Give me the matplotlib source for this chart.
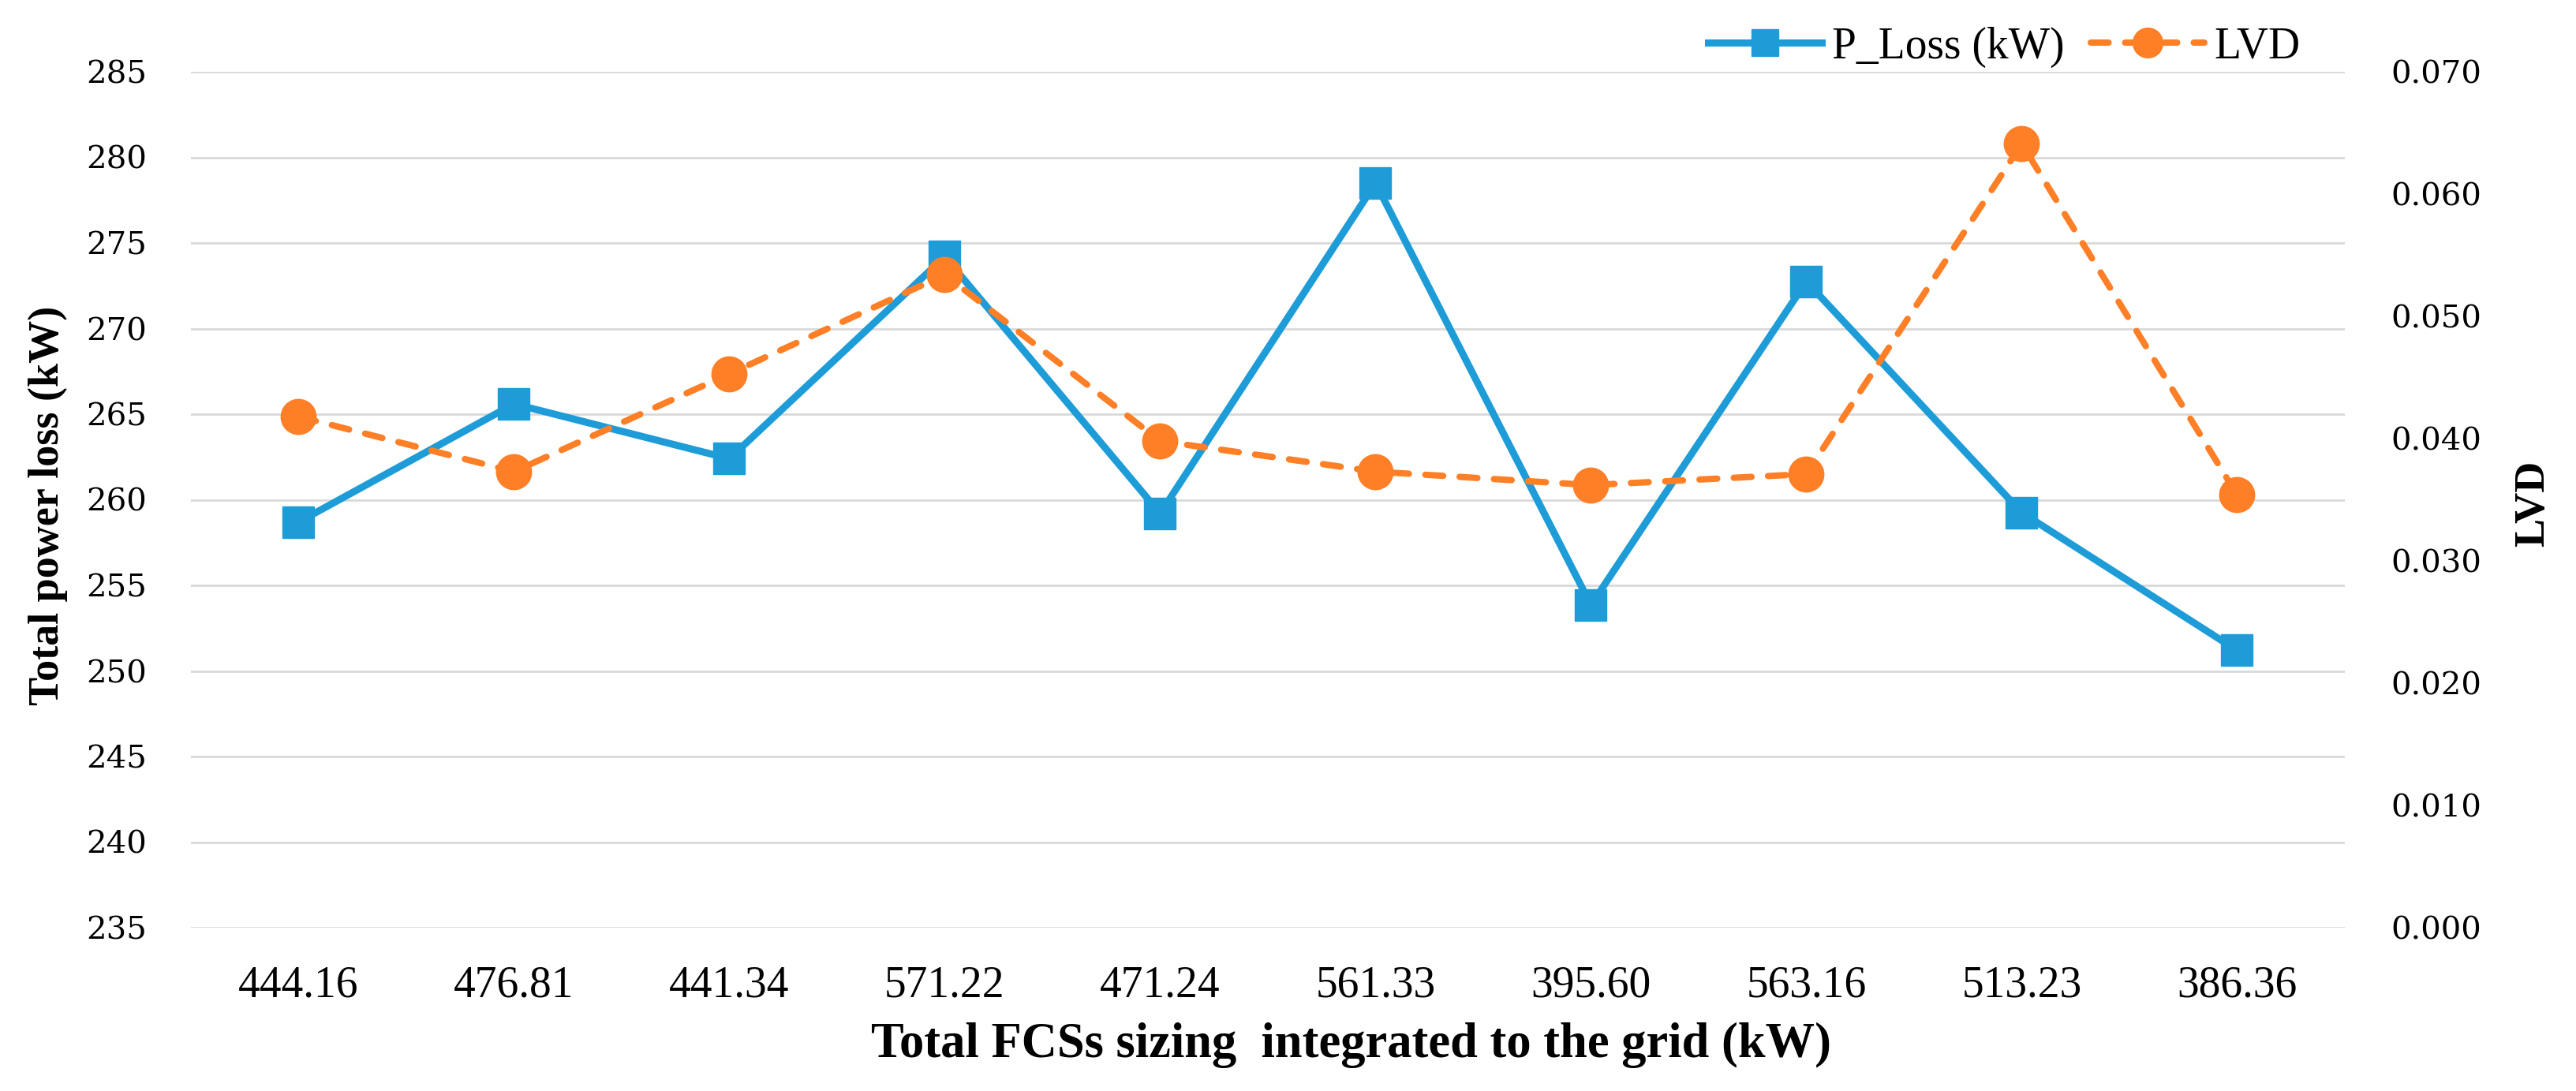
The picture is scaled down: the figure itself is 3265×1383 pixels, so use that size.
import matplotlib
matplotlib.use("Agg")
import matplotlib.pyplot as plt
from matplotlib.ticker import FixedLocator, FormatStrFormatter

categories = ["444.16", "476.81", "441.34", "571.22", "471.24",
              "561.33", "395.60", "563.16", "513.23", "386.36"]
p_loss = [258.7, 265.6, 262.4, 274.2, 259.2, 278.5, 253.85, 272.75, 259.25, 251.2]
lvd = [0.0418, 0.0373, 0.0453, 0.0534, 0.0398, 0.0373, 0.0362, 0.0371, 0.0641, 0.0354]
left_ticks = [235, 240, 245, 250, 255, 260, 265, 270, 275, 280, 285]
right_ticks = [0.000, 0.010, 0.020, 0.030, 0.040, 0.050, 0.060, 0.070]

W, H = 3266, 1383
DPI = 100
BLUE = "#1E9CD8"
ORANGE = "#FF7F27"
GRID = "#D9D9D9"

fig = plt.figure(figsize=(W / DPI, H / DPI), dpi=DPI)
ax = fig.add_axes([242 / W, 1 - 1176 / H, 2730 / W, 1085 / H])
ax2 = ax.twinx()

x = list(range(len(categories)))

ax.set_xlim(-0.5, len(categories) - 0.5)
ax.set_ylim(left_ticks[0], left_ticks[-1])
ax2.set_ylim(right_ticks[0], right_ticks[-1])

ax.yaxis.set_major_locator(FixedLocator(left_ticks))
ax2.yaxis.set_major_locator(FixedLocator(right_ticks))
ax2.yaxis.set_major_formatter(FormatStrFormatter("%.3f"))
ax.set_xticks(x)
ax.set_xticklabels(categories, family="Liberation Serif", fontsize=40)

ax.grid(axis="y", color=GRID, linewidth=2.0)
ax.set_axisbelow(True)
for a in (ax, ax2):
    for s in a.spines.values():
        s.set_visible(False)
    a.tick_params(length=0)

for lab in ax.get_yticklabels():
    lab.set_family("DejaVu Serif")
    lab.set_fontsize(29)
for lab in ax2.get_yticklabels():
    lab.set_family("DejaVu Serif")
    lab.set_fontsize(29)
ax.tick_params(axis="y", pad=40)
ax2.tick_params(axis="y", pad=42)
ax.tick_params(axis="x", pad=34)

l1, = ax.plot(x, p_loss, color=BLUE, linewidth=6.5, marker="s", markersize=28.5,
              markerfacecolor=BLUE, markeredgecolor=BLUE, solid_joinstyle="miter",
              label="P_Loss (kW)", zorder=3)
l2, = ax2.plot(x, lvd, color=ORANGE, linewidth=5.8, linestyle=(0, (2.8, 2.6)),
               dash_capstyle="round", marker="o", markersize=32,
               markerfacecolor=ORANGE, markeredgecolor=ORANGE,
               label="LVD", zorder=3)

fig.text(61 / W, 1 - 641 / H, "Total power loss (kW)", rotation=90,
         ha="center", va="center", family="Liberation Serif", fontweight="bold",
         fontsize=39)
fig.text(3211 / W, 1 - 638 / H, "LVD", rotation=90, ha="center", va="center",
         family="Liberation Serif", fontweight="bold", fontsize=39)
fig.text(1713 / W, 1 - 1325 / H, "Total FCSs sizing  integrated to the grid (kW)",
         ha="center", va="center", family="Liberation Serif", fontweight="bold",
         fontsize=45)

leg = fig.legend([l1, l2], ["P_Loss (kW)", "LVD"], loc="center left",
                 bbox_to_anchor=(2165 / W, 1 - 60 / H), bbox_transform=fig.transFigure,
                 ncol=2, frameon=False, borderpad=0, borderaxespad=0,
                 handlelength=2.6, handletextpad=0.22, columnspacing=0.6,
                 markerscale=0.85, prop={"family": "Liberation Serif", "size": 40})

fig.savefig("out.png", dpi=DPI, facecolor="white")
